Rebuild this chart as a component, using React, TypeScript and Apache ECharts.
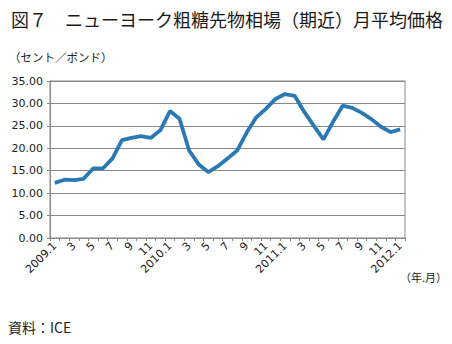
import React, { useEffect, useRef } from "react";
import * as echarts from "echarts";

const months: string[] = [
  "2009.1","2","3","4","5","6","7","8","9","10","11","12",
  "2010.1","2","3","4","5","6","7","8","9","10","11","12",
  "2011.1","2","3","4","5","6","7","8","9","10","11","12",
  "2012.1",
];
const prices: number[] = [
  12.3, 13.0, 12.9, 13.2, 15.5, 15.5, 17.7, 21.8, 22.3, 22.7, 22.3, 24.0,
  28.3, 26.6, 19.5, 16.4, 14.7, 16.0, 17.7, 19.5, 23.5, 26.9, 28.8, 31.0,
  32.1, 31.7, 28.1, 25.0, 22.0, 25.9, 29.5, 29.0, 27.9, 26.5, 24.8, 23.6,
  24.2,
];
const yTicks: number[] = [0, 5, 10, 15, 20, 25, 30, 35];

const titleText = "図７　ニューヨーク粗糖先物相場（期近）月平均価格";
const unitText = "（セント／ポンド）";
const xUnitText = "（年.月）";
const sourceText = "資料：ICE";

export default function App() {
  const ref = useRef<HTMLDivElement>(null);
  useEffect(() => {
    if (!ref.current) return;
    const chart = echarts.init(ref.current, undefined, { renderer: "svg" });
    const font = "'DejaVu Sans', 'Noto Sans CJK JP', sans-serif";
    const jp = "'Noto Sans CJK JP', sans-serif";
    chart.setOption({
      animation: false,
      backgroundColor: "#ffffff",
      title: {
        text: titleText,
        left: 6,
        top: 5,
        textStyle: { fontFamily: jp, fontSize: 18, fontWeight: "normal", color: "#1a1a1a" },
      },
      graphic: [
        { type: "text", left: 9, top: 51, style: { text: unitText, fontFamily: jp, fontSize: 11.5, fill: "#222" } },
        { type: "text", left: 400, top: 271, style: { text: xUnitText, fontFamily: jp, fontSize: 11, fill: "#222" } },
        { type: "text", left: 8, top: 320, style: { text: sourceText, fontFamily: jp, fontSize: 14, fill: "#222" } },
      ],
      grid: {
        left: 50,
        right: 47,
        top: 81,
        bottom: 106,
        show: true,
        borderColor: "#888",
        borderWidth: 1,
      },
      xAxis: {
        type: "category",
        data: months,
        boundaryGap: true,
        axisLine: { show: true, lineStyle: { color: "#888", width: 1 } },
        axisTick: { show: true, interval: 0, length: 3, lineStyle: { color: "#888" } },
        axisLabel: {
          interval: 1,
          rotate: 45,
          fontFamily: font,
          fontSize: 11,
          color: "#222",
          margin: 6,
        },
        splitLine: { show: false },
      },
      yAxis: {
        type: "value",
        min: 0,
        max: 35,
        interval: 5,
        axisLine: { show: true, lineStyle: { color: "#888", width: 1 } },
        axisTick: { show: true, length: 3, lineStyle: { color: "#888" } },
        axisLabel: {
          fontFamily: font,
          fontSize: 11,
          color: "#222",
          margin: 7,
          formatter: (v: number) => (yTicks.includes(v) ? v.toFixed(2) : ""),
        },
        splitLine: { show: true, lineStyle: { color: "#888", width: 1 } },
      },
      series: [
        {
          type: "line",
          data: prices,
          symbol: "none",
          lineStyle: { color: "#2a79b5", width: 3.8 },
          itemStyle: { color: "#2a79b5" },
        },
      ],
    });
    return () => chart.dispose();
  }, []);
  return (
    <div
      ref={ref}
      style={{ position: "fixed", left: 0, top: 0, width: 452, height: 344, background: "#fff" }}
    />
  );
}
